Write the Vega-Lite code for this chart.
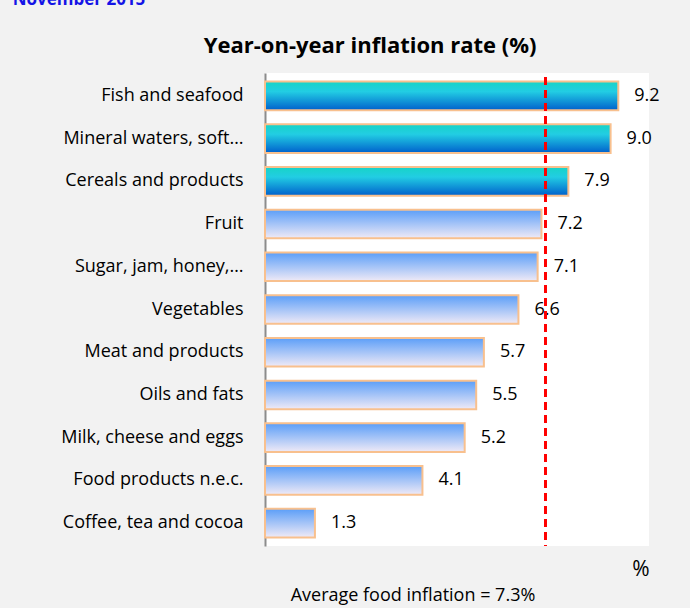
{
  "$schema": "https://vega.github.io/schema/vega-lite/v6.json",
  "background": "#f2f2f2",
  "padding": {"left": 12, "top": -9, "right": 30, "bottom": 6},
  "config": {
    "font": "Open Sans",
    "view": {"fill": "#ffffff", "stroke": null}
  },
  "title": {"text": "November 2015", "anchor": "start", "frame": "bounds", "color": "#1414e6", "fontSize": 17, "font": "Open Sans", "fontWeight": "bold", "offset": 26, "dx": -48},
  "vconcat": [
    {
      "title": {"text": "Year-on-year inflation rate (%)", "anchor": "middle", "frame": "bounds", "fontSize": 22, "font": "Open Sans", "fontWeight": "bold", "color": "#000000", "offset": 15, "dx": 10},
      "vconcat": [
        {
          "width": 384,
          "height": 473,
          "title": {"text": "Average food inflation = 7.3%", "orient": "bottom", "anchor": "middle", "frame": "group", "fontSize": 18, "font": "Open Sans", "fontWeight": "normal", "color": "#000000", "offset": 8, "dx": -44},
          "data": {
            "values": [
              {"category": "Fish and seafood", "value": 9.2},
              {"category": "Mineral waters, soft…", "value": 9.0},
              {"category": "Cereals and products", "value": 7.9},
              {"category": "Fruit", "value": 7.2},
              {"category": "Sugar, jam, honey,…", "value": 7.1},
              {"category": "Vegetables", "value": 6.6},
              {"category": "Meat and products", "value": 5.7},
              {"category": "Oils and fats", "value": 5.5},
              {"category": "Milk, cheese and eggs", "value": 5.2},
              {"category": "Food products n.e.c.", "value": 4.1},
              {"category": "Coffee, tea and cocoa", "value": 1.3}
            ]
          },
          "encoding": {
            "y": {
              "field": "category", "type": "nominal", "sort": null,
              "scale": {"paddingInner": 0.33, "paddingOuter": 0.2},
              "axis": {"title": null, "domainColor": "#8c8c8c", "domainWidth": 2, "ticks": false, "labelPadding": 22, "labelFontSize": 18, "labelFont": "Open Sans", "labelColor": "#000000", "labelLimit": 300}
            },
            "x": {
              "field": "value", "type": "quantitative",
              "scale": {"domain": [0, 10], "nice": false},
              "axis": {"domain": false, "ticks": false, "labels": false, "grid": false, "title": "%", "titleAnchor": "end", "titleFontSize": 21, "titleFont": "Open Sans", "titleFontWeight": "normal", "titleColor": "#000000", "titlePadding": 12}
            }
          },
          "layer": [
            {
              "transform": [{"filter": "datum.value >= 7.5"}],
              "mark": {"type": "bar", "stroke": "#f8c08e", "strokeWidth": 2,
                "fill": {"gradient": "linear", "x1": 0, "y1": 0, "x2": 0, "y2": 1,
                  "stops": [{"offset": 0, "color": "#17d4c6"}, {"offset": 0.35, "color": "#22cde3"}, {"offset": 1, "color": "#0060cc"}]}}
            },
            {
              "transform": [{"filter": "datum.value < 7.5"}],
              "mark": {"type": "bar", "stroke": "#f8c08e", "strokeWidth": 2,
                "fill": {"gradient": "linear", "x1": 0, "y1": 0, "x2": 0, "y2": 1,
                  "stops": [{"offset": 0, "color": "#5b9ef8"}, {"offset": 1, "color": "#f0eaf6"}]}}
            },
            {
              "mark": {"type": "text", "align": "left", "baseline": "middle", "dx": 16, "fontSize": 18, "font": "Open Sans", "color": "#000000"},
              "encoding": {"text": {"field": "value", "type": "quantitative", "format": ".1f"}}
            },
            {
              "mark": {"type": "rule", "color": "#ff0000", "strokeWidth": 2, "strokeDash": [8, 5], "yOffset": 4, "y2Offset": 24},
              "encoding": {"x": {"datum": 7.3}, "y": null}
            }
          ]
        }
      ]
    }
  ]
}
